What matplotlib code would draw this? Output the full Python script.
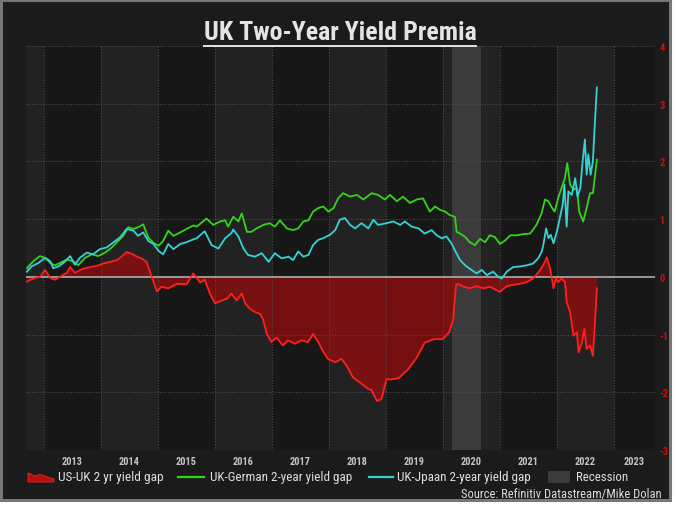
import numpy as np
import matplotlib.pyplot as plt
from matplotlib.patches import Rectangle, Polygon
from matplotlib.lines import Line2D

# dates as fractional years, values in percentage points
us_uk_t = [2012.70, 2012.81, 2012.93, 2013.02, 2013.11, 2013.19, 2013.28, 2013.40, 2013.46, 2013.54,
           2013.68, 2013.81, 2013.92, 2014.04, 2014.16, 2014.28, 2014.36, 2014.45, 2014.54, 2014.63,
           2014.71, 2014.80, 2014.89, 2014.98, 2015.06, 2015.18, 2015.33, 2015.50, 2015.62, 2015.74,
           2015.82, 2015.91, 2016.00, 2016.09, 2016.21, 2016.29, 2016.38, 2016.47, 2016.53, 2016.61,
           2016.70, 2016.79, 2016.84, 2016.91, 2016.99, 2017.08, 2017.19, 2017.28, 2017.40, 2017.52,
           2017.63, 2017.72, 2017.81, 2017.89, 2017.98, 2018.11, 2018.22, 2018.31, 2018.42, 2018.54,
           2018.66, 2018.75, 2018.84, 2018.92, 2019.01, 2019.08, 2019.23, 2019.39, 2019.54, 2019.68,
           2019.84, 2019.99, 2020.11, 2020.18, 2020.23, 2020.27, 2020.36, 2020.47, 2020.59, 2020.71,
           2020.82, 2020.94, 2021.00, 2021.12, 2021.23, 2021.35, 2021.47, 2021.58, 2021.70, 2021.79,
           2021.82, 2021.88, 2021.94, 2021.98, 2022.02, 2022.08, 2022.14, 2022.17, 2022.23, 2022.29,
           2022.35, 2022.38, 2022.44, 2022.48, 2022.52, 2022.58, 2022.63, 2022.67, 2022.70]
us_uk_v = [-0.08, -0.03, 0.00, 0.12, -0.02, -0.05, 0.00, 0.07, 0.17, 0.07,
           0.14, 0.17, 0.19, 0.23, 0.26, 0.29, 0.35, 0.43, 0.40, 0.35,
           0.32, 0.26, 0.00, -0.25, -0.17, -0.20, -0.12, -0.13, 0.06, -0.10,
           -0.05, -0.29, -0.46, -0.42, -0.38, -0.29, -0.41, -0.29, -0.46, -0.55,
           -0.61, -0.64, -0.73, -0.99, -1.13, -1.05, -1.19, -1.10, -1.16, -1.10,
           -1.13, -0.99, -1.13, -1.28, -1.42, -1.48, -1.42, -1.54, -1.74, -1.83,
           -1.92, -1.97, -2.15, -2.12, -1.77, -1.78, -1.75, -1.60, -1.40, -1.14,
           -1.08, -1.08, -0.96, -0.73, -0.14, -0.12, -0.17, -0.20, -0.16, -0.20,
           -0.17, -0.23, -0.26, -0.16, -0.14, -0.12, -0.09, -0.03, 0.11, 0.26,
           0.34, 0.14, -0.20, -0.03, -0.09, -0.03, -0.09, -0.44, -0.61, -1.02,
           -0.96, -1.31, -1.13, -0.90, -1.25, -1.19, -1.37, -0.73, -0.20]

uk_de_t = [2012.70, 2012.81, 2012.93, 2013.02, 2013.11, 2013.19, 2013.28, 2013.40, 2013.51, 2013.60,
           2013.72, 2013.84, 2013.95, 2014.07, 2014.19, 2014.30, 2014.39, 2014.48, 2014.57, 2014.65,
           2014.74, 2014.83, 2014.92, 2015.01, 2015.09, 2015.18, 2015.27, 2015.39, 2015.50, 2015.62,
           2015.68, 2015.85, 2015.97, 2016.09, 2016.18, 2016.23, 2016.32, 2016.41, 2016.47, 2016.56,
           2016.64, 2016.73, 2016.85, 2016.96, 2017.05, 2017.14, 2017.26, 2017.37, 2017.46, 2017.55,
           2017.64, 2017.72, 2017.81, 2017.90, 2017.99, 2018.08, 2018.16, 2018.25, 2018.37, 2018.49,
           2018.60, 2018.75, 2018.86, 2018.98, 2019.07, 2019.19, 2019.30, 2019.42, 2019.54, 2019.65,
           2019.77, 2019.86, 2019.95, 2020.04, 2020.12, 2020.21, 2020.24, 2020.30, 2020.39, 2020.47,
           2020.56, 2020.65, 2020.74, 2020.82, 2020.91, 2021.00, 2021.09, 2021.18, 2021.29, 2021.41,
           2021.53, 2021.64, 2021.73, 2021.79, 2021.85, 2021.91, 2021.96, 2022.02, 2022.08, 2022.14,
           2022.18, 2022.23, 2022.29, 2022.35, 2022.39, 2022.46, 2022.52, 2022.58, 2022.63, 2022.67,
           2022.70]
uk_de_v = [0.15, 0.27, 0.36, 0.33, 0.24, 0.20, 0.24, 0.30, 0.27, 0.20,
           0.33, 0.39, 0.36, 0.42, 0.51, 0.62, 0.71, 0.86, 0.83, 0.86,
           0.91, 0.68, 0.59, 0.54, 0.62, 0.80, 0.71, 0.77, 0.83, 0.89,
           0.87, 1.01, 0.90, 0.96, 0.98, 0.87, 1.04, 0.96, 1.10, 0.78,
           0.78, 0.84, 0.90, 0.93, 0.87, 0.98, 0.84, 0.81, 0.84, 0.96,
           0.98, 1.13, 1.19, 1.22, 1.13, 1.19, 1.36, 1.45, 1.39, 1.42,
           1.34, 1.45, 1.42, 1.34, 1.42, 1.31, 1.39, 1.28, 1.34, 1.36,
           1.13, 1.22, 1.16, 1.13, 1.07, 1.04, 0.78, 0.75, 0.69, 0.60,
           0.55, 0.66, 0.60, 0.72, 0.69, 0.57, 0.63, 0.72, 0.72, 0.74,
           0.75, 0.90, 1.10, 1.34, 1.31, 1.20, 1.13, 1.36, 1.54, 1.71,
           1.97, 1.60, 1.51, 1.54, 1.13, 0.96, 1.19, 1.45, 1.45, 1.77,
           2.03]

uk_jp_t = [2012.70, 2012.78, 2012.90, 2013.02, 2013.11, 2013.16, 2013.25, 2013.34, 2013.46, 2013.54,
           2013.63, 2013.75, 2013.86, 2013.98, 2014.10, 2014.22, 2014.33, 2014.45, 2014.57, 2014.65,
           2014.74, 2014.83, 2014.92, 2015.01, 2015.09, 2015.18, 2015.27, 2015.39, 2015.50, 2015.62,
           2015.68, 2015.82, 2015.94, 2016.06, 2016.18, 2016.29, 2016.32, 2016.41, 2016.50, 2016.58,
           2016.70, 2016.82, 2016.94, 2017.05, 2017.17, 2017.29, 2017.37, 2017.46, 2017.55, 2017.64,
           2017.72, 2017.81, 2017.90, 2018.02, 2018.11, 2018.19, 2018.28, 2018.37, 2018.46, 2018.57,
           2018.69, 2018.78, 2018.86, 2019.01, 2019.13, 2019.25, 2019.33, 2019.45, 2019.57, 2019.68,
           2019.80, 2019.89, 2019.98, 2020.06, 2020.15, 2020.21, 2020.30, 2020.39, 2020.47, 2020.59,
           2020.68, 2020.77, 2020.88, 2020.97, 2021.03, 2021.12, 2021.23, 2021.35, 2021.47, 2021.58,
           2021.67, 2021.73, 2021.76, 2021.81, 2021.85, 2021.89, 2021.94, 2022.00, 2022.05, 2022.10,
           2022.13, 2022.17, 2022.20, 2022.26, 2022.32, 2022.36, 2022.41, 2022.45, 2022.49, 2022.52,
           2022.55, 2022.59, 2022.63, 2022.66, 2022.70]
uk_jp_v = [0.09, 0.18, 0.24, 0.33, 0.27, 0.15, 0.18, 0.24, 0.36, 0.21,
           0.33, 0.42, 0.39, 0.48, 0.51, 0.60, 0.68, 0.83, 0.80, 0.71,
           0.77, 0.62, 0.57, 0.45, 0.39, 0.57, 0.48, 0.57, 0.60, 0.65,
           0.67, 0.79, 0.55, 0.49, 0.67, 0.76, 0.82, 0.70, 0.49, 0.38,
           0.35, 0.41, 0.26, 0.41, 0.32, 0.35, 0.29, 0.44, 0.35, 0.38,
           0.55, 0.64, 0.67, 0.73, 0.81, 0.99, 1.02, 0.90, 0.84, 0.93,
           0.84, 0.99, 0.90, 0.93, 0.96, 0.90, 0.96, 0.87, 0.84, 0.75,
           0.81, 0.72, 0.67, 0.70, 0.58, 0.46, 0.29, 0.20, 0.14, 0.06,
           0.12, 0.03, 0.09, 0.00, -0.03, 0.09, 0.17, 0.18, 0.20, 0.23,
           0.32, 0.43, 0.55, 0.84, 0.67, 0.73, 0.58, 0.79, 1.02, 1.25,
           1.60, 0.87, 1.48, 1.42, 1.71, 1.39, 1.54, 2.00, 2.38, 1.77,
           2.12, 1.77, 2.00, 2.58, 3.28]

years = list(range(2013, 2024))
yticks = [-3, -2, -1, 0, 1, 2, 3, 4]
recession = (2020.16, 2020.67)
legend_labels = ["US-UK 2 yr yield gap", "UK-German 2-year yield gap",
                 "UK-Jpaan 2-year yield gap", "Recession"]
source = "Source: Refinitiv Datastream/Mike Dolan"

RED = "#ff1f1f"
GREEN = "#33d41a"
CYAN = "#35d3d6"
FONT = dict(family=["Liberation Sans Narrow", "Roboto Condensed", "Liberation Sans", "DejaVu Sans"])

W, H = 677, 506
fig = plt.figure(figsize=(W / 100, H / 100), dpi=100, facecolor="white")


def px(x, y):
    return x / W, 1 - y / H


def fit(txt, width_px, size):
    # scale a text so it spans about the same width as in the reference
    for _ in range(3):
        txt.set_fontsize(size)
        w = txt.get_window_extent(fig.canvas.get_renderer()).width
        if abs(w - width_px) <= 2:
            break
        size *= width_px / w


# dark panel with grey frame
fig.add_artist(Rectangle((0.5 / W, 1 - 501 / H), 669 / W, 500 / H, transform=fig.transFigure,
                         facecolor="#1b1b1b", edgecolor="#777777", lw=2.2, zorder=-10))

x0, x1 = 2012.684, 2023.72
ax = fig.add_axes([26 / W, 1 - 451 / H, (655 - 26) / W, (451 - 47) / H])
ax.set_facecolor("#171717")
ax.set_xlim(x0, x1)
ax.set_ylim(-3, 4)
for s in ax.spines.values():
    s.set_visible(False)

# alternating year bands
for y in range(2012, 2024):
    if y % 2 == 0:
        ax.axvspan(max(y, x0), min(y + 1, x1), color="#222222", lw=0, zorder=0)
ax.axvspan(*recession, color="#3b3b3b", lw=0, zorder=0.5)

ax.fill_between(us_uk_t, us_uk_v, 0, color="#8e0d0d", alpha=0.8, lw=0, zorder=1)

for yv in yticks:
    if yv != 0:
        ax.axhline(yv, color="#4d4d4d", ls=(0, (1, 1.5)), lw=0.8, zorder=2)
for y in years:
    ax.axvline(y, color="#4d4d4d", ls=(0, (1, 1.5)), lw=0.8, zorder=2)
ax.axhline(0, color="#b8b8b8", lw=1.3, alpha=0.85, zorder=3)

ax.plot(us_uk_t, us_uk_v, color=RED, lw=1.3, zorder=4)
ax.plot(uk_de_t, uk_de_v, color=GREEN, lw=1.3, zorder=5)
ax.plot(uk_jp_t, uk_jp_v, color=CYAN, lw=1.3, zorder=6)

ax.yaxis.tick_right()
ax.set_yticks(yticks)
ax.set_yticklabels([str(v) for v in yticks], color="#d01010", fontsize=7.5,
                   fontweight="bold", **FONT)
ax.tick_params(axis="y", length=0, pad=3)

ax.set_xticks(years)
ax.set_xticklabels([])
mid = [(max(y, x0) + min(y + 1, x1)) / 2 for y in years]
ax.set_xticks(mid, minor=True)
ax.set_xticklabels([str(y) for y in years], minor=True, color="#c4c4c4", fontsize=7.5,
                   fontweight="bold", **FONT)
ax.tick_params(axis="x", which="both", length=0, pad=4)

# title with underline
title = fig.text(*px(340, 33), "UK Two-Year Yield Premia", ha="center", va="center",
                 fontsize=16, fontweight="bold", color="#e4e4e4", **FONT)
fit(title, 273, 16)

# legend row
ly = 478
area = [px(28, 474), px(35, 477), px(40, 475.5), px(46, 477.5), px(54, 480), px(54, 483), px(28, 483)]
fig.add_artist(Polygon(area, closed=True, transform=fig.transFigure,
                       facecolor="#b01010", edgecolor=RED, lw=0.6))
for (a, b), c in [((178, 204), GREEN), ((369, 393), CYAN)]:
    fig.add_artist(Line2D([a / W, b / W], [1 - ly / H] * 2, transform=fig.transFigure,
                          color=c, lw=1.6))
fig.add_artist(Rectangle(px(548, 484), 22 / W, 12 / H, transform=fig.transFigure,
                         facecolor="#3b3b3b", lw=0))
for xs, lab, wpx in zip([58, 210, 397, 576], legend_labels, [105, 142, 133, 52]):
    t = fig.text(*px(xs, ly), lab, ha="left", va="center", color="#dedede", **FONT)
    fit(t, wpx, 10)

src = fig.text(*px(662, 495), source, ha="right", va="center", color="#dedede", **FONT)
fit(src, 200, 9.5)

fig.canvas.draw()
bb = title.get_window_extent().transformed(fig.transFigure.inverted())
fig.add_artist(Line2D([bb.x0, bb.x1], [bb.y0 - 1.5 / H, bb.y0 - 1.5 / H],
                      transform=fig.transFigure, color="#e4e4e4", lw=1.4))

fig.savefig("out.png", dpi=100, facecolor=fig.get_facecolor())
